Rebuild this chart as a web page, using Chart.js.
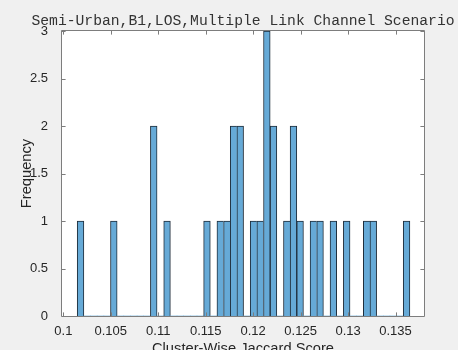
<!DOCTYPE html>
<html>
<head>
<meta charset="utf-8">
<script src="https://cdn.jsdelivr.net/npm/chart.js@4/dist/chart.umd.min.js"></script>
<style>
  html, body { margin: 0; padding: 0; background: #f0f0f0; }
  #wrap { width: 458px; height: 350px; }
</style>
</head>
<body>
<div id="wrap"><canvas id="c" width="458" height="350"></canvas></div>
<script>
// Histogram of cluster-wise Jaccard scores: 50 equal-width bins
const binStart = 0.101464;
const binWidth = 0.000701;
const counts = [
  1, 0, 0, 0, 0, 1, 0, 0, 0, 0,
  0, 2, 0, 1, 0, 0, 0, 0, 0, 1,
  0, 1, 1, 2, 2, 0, 1, 1, 3, 2,
  0, 1, 2, 1, 0, 1, 1, 0, 1, 0,
  1, 0, 0, 1, 1, 0, 0, 0, 0, 1
];

const xTickValues = [0.1, 0.105, 0.11, 0.115, 0.12, 0.125, 0.13, 0.135];
const xTickLabels = ['0.1', '0.105', '0.11', '0.115', '0.12', '0.125', '0.13', '0.135'];
const yTickValues = [0, 0.5, 1, 1.5, 2, 2.5, 3];
const yTickLabels = ['0', '0.5', '1', '1.5', '2', '2.5', '3'];

const xRange = [0.09986, 0.13800];
const yRange = [0, 3];

const titleText = 'Semi-Urban,B1,LOS,Multiple Link Channel Scenario';
const xTitle = 'Cluster-Wise Jaccard Score';
const yTitle = 'Frequency';

const points = counts.map((c, i) => ({ x: binStart + (i + 0.5) * binWidth, y: c }));

// Edge widths: shared edges between neighbouring bins are drawn only once
function edgeWidth(ctx) {
  const i = ctx.dataIndex;
  const c = counts[i];
  if (!c) return 0;
  const next = i + 1 < counts.length ? counts[i + 1] : 0;
  return { left: 1, top: 1, bottom: 0, right: next < c ? 1 : 0 };
}

const axesFrame = {
  id: 'axesFrame',
  beforeDraw(chart) {
    const { ctx, chartArea: a } = chart;
    ctx.save();
    ctx.fillStyle = '#ffffff';
    ctx.fillRect(a.left, a.top, a.right - a.left, a.bottom - a.top);
    ctx.restore();
  },
  afterDraw(chart) {
    const { ctx, chartArea: a, scales } = chart;
    const tl = 3.6;
    ctx.save();
    ctx.strokeStyle = '#7d7d7d';
    ctx.lineWidth = 1;
    ctx.beginPath();
    ctx.rect(Math.round(a.left) - 0.5, Math.round(a.top) - 0.5,
             Math.round(a.right - a.left) + 1, Math.round(a.bottom - a.top) + 1);
    ctx.stroke();
    ctx.beginPath();
    xTickValues.forEach(v => {
      const px = Math.round(scales.x.getPixelForValue(v)) + 0.5;
      ctx.moveTo(px, a.bottom); ctx.lineTo(px, a.bottom - tl);
      ctx.moveTo(px, a.top); ctx.lineTo(px, a.top + tl);
    });
    yTickValues.forEach(v => {
      const py = Math.round(scales.y.getPixelForValue(v)) + 0.5;
      ctx.moveTo(a.left, py); ctx.lineTo(a.left + tl, py);
      ctx.moveTo(a.right, py); ctx.lineTo(a.right - tl, py);
    });
    ctx.stroke();

    // title and axis labels
    const cx = (a.left + a.right) / 2;
    const cy = (a.top + a.bottom) / 2;
    ctx.fillStyle = '#333333';
    ctx.textAlign = 'center';
    ctx.textBaseline = 'alphabetic';
    ctx.font = '14.7px "Liberation Mono", "DejaVu Sans Mono", monospace';
    ctx.fillText(titleText, cx, 24.5);

    ctx.fillStyle = '#262626';
    ctx.font = '14.7px "Liberation Sans", Arial, sans-serif';
    ctx.fillText(xTitle, cx, 353);

    ctx.translate(31, cy);
    ctx.rotate(-Math.PI / 2);
    ctx.fillText(yTitle, 0, 0);
    ctx.restore();
  }
};

new Chart(document.getElementById('c'), {
  type: 'bar',
  data: {
    datasets: [{
      data: points,
      backgroundColor: '#66aad7',
      borderColor: '#1f2d3a',
      borderWidth: edgeWidth,
      borderSkipped: false,
      barPercentage: 1,
      categoryPercentage: 1
    }]
  },
  options: {
    responsive: false,
    devicePixelRatio: 1,
    animation: false,
    layout: { padding: { left: 0, right: 34, top: 31, bottom: 0 } },
    plugins: {
      legend: { display: false },
      title: { display: false },
      tooltip: { enabled: false }
    },
    scales: {
      x: {
        type: 'linear',
        offset: false,
        min: xRange[0],
        max: xRange[1],
        grid: { display: false, offset: false },
        border: { display: false },
        afterBuildTicks(scale) { scale.ticks = xTickValues.map(v => ({ value: v })); },
        afterFit(scale) { scale.height = 34; },
        ticks: {
          autoSkip: false,
          maxRotation: 0,
          padding: 0,
          color: '#262626',
          font: { family: '"Liberation Sans", Arial, sans-serif', size: 13 },
          callback: (v) => xTickLabels[xTickValues.findIndex(t => Math.abs(t - v) < 1e-9)]
        }
      },
      y: {
        min: yRange[0],
        max: yRange[1],
        grid: { display: false },
        border: { display: false },
        afterBuildTicks(scale) { scale.ticks = yTickValues.map(v => ({ value: v })); },
        afterFit(scale) { scale.width = 62; },
        ticks: {
          padding: 6,
          color: '#262626',
          font: { family: '"Liberation Sans", Arial, sans-serif', size: 13 },
          callback: (v) => yTickLabels[yTickValues.findIndex(t => Math.abs(t - v) < 1e-9)]
        }
      }
    }
  },
  plugins: [axesFrame]
});
</script>
</body>
</html>
